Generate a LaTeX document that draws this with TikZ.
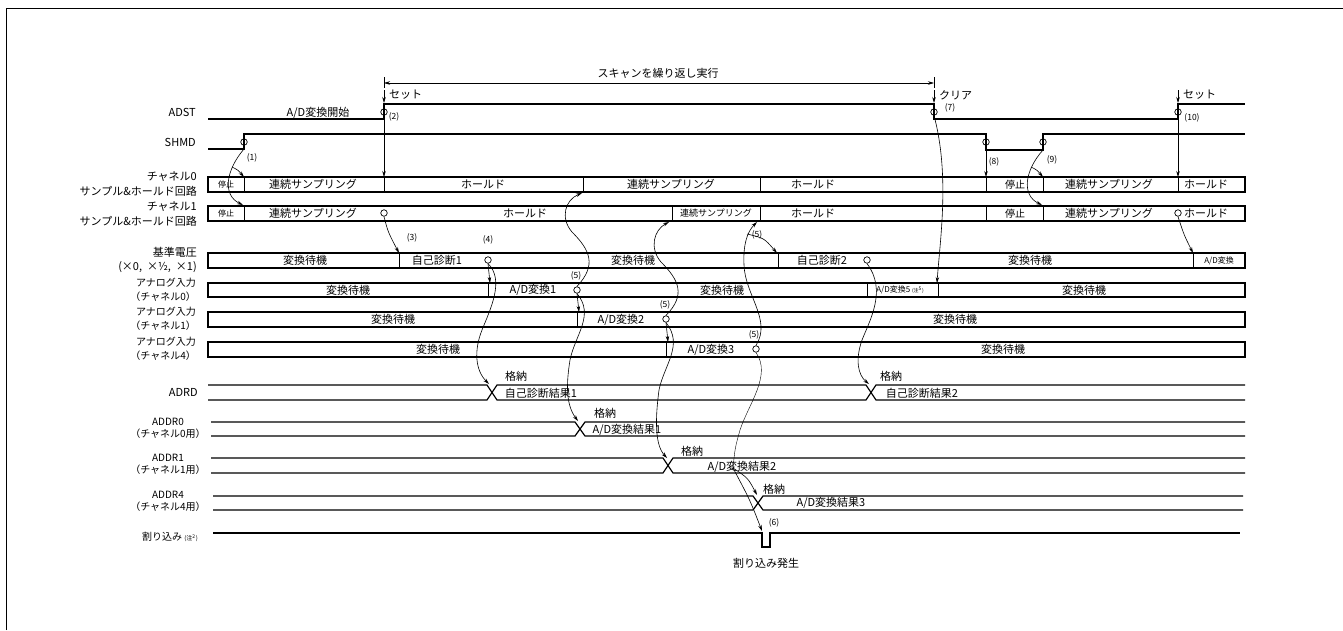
\documentclass[tikz,border=0pt]{standalone}
\usepackage{fontspec}
\setmainfont{Noto Sans CJK JP}
\usetikzlibrary{arrows.meta}

\begin{document}
\begin{tikzpicture}[
  x=1pt, y=-1pt,
  every node/.style={inner sep=1pt, font=\fontsize{11}{14.5}\selectfont},
  lbl/.style={anchor=east, align=right},
  reg/.style={align=center, font=\fontsize{10}{12}\selectfont},
  sm/.style={font=\fontsize{8}{9}\selectfont},
  num/.style={font=\fontsize{8.5}{9}\selectfont},
  sig/.style={line width=1.2pt},
  lane/.style={draw, line width=1.2pt},
  div/.style={line width=0.7pt},
  cue/.style={line width=0.6pt, -{Stealth[length=6pt,width=3.5pt]}},
  dot/.style={circle, draw, line width=0.7pt, inner sep=0pt, minimum size=6.5pt},
  >=Stealth
]
\useasboundingbox (0,0) rectangle (1343,630);
\draw[line width=0.8pt] (6,630) -- (6,8) -- (1343,8);

% row names
\node[lbl] (l-adst) at (197,112) {ADST};
\node[lbl] (l-shmd) at (197,142) {SHMD};
\node[lbl] (l-ch0) at (198,184) {チャネル0\\サンプル\&ホールド回路};
\node[lbl] (l-ch1) at (198,214) {チャネル1\\サンプル\&ホールド回路};
\node[lbl] (l-vref) at (198,260) {基準電圧\\(×0,\ \ ×½,\ \ ×1)};
\node[lbl, font=\fontsize{10}{14}\selectfont] (l-an0) at (197,290) {アナログ入力\\（チャネル0）};
\node[lbl, font=\fontsize{10}{14}\selectfont] (l-an1) at (197,319) {アナログ入力\\（チャネル1）};
\node[lbl, font=\fontsize{10}{14}\selectfont] (l-an4) at (197,349) {アナログ入力\\（チャネル4）};
\node[lbl] (l-adrd) at (199,392) {ADRD};
\node[reg] (l-addr0) at (168,428) {ADDR0\\（チャネル0用）};
\node[reg] (l-addr1) at (168,464) {ADDR1\\（チャネル1用）};
\node[reg] (l-addr4) at (168,501) {ADDR4\\（チャネル4用）};
\node[lbl, font=\fontsize{10}{12}\selectfont] (l-irq) at (199,537) {割り込み {\fontsize{6}{7}\selectfont(注\textsuperscript{2})}};

% scan span
\draw[line width=0.6pt] (384,77) -- (384,88) (934,77) -- (934,88);
\coordinate (span-l) at (384,83);
\coordinate (span-r) at (934,83);
\draw[line width=0.6pt, {Stealth[length=6pt,width=3.5pt]}-{Stealth[length=6pt,width=3.5pt]}] (span-l) -- (span-r);
\node (scan) at (658,73) {スキャンを繰り返し実行};

\coordinate (set1-a) at (384,90);
\coordinate (set1-b) at (384,103);
\coordinate (clr-a) at (934,90);
\coordinate (clr-b) at (934,103);
\coordinate (set2-a) at (1178,90);
\coordinate (set2-b) at (1178,103);
\draw[cue] (set1-a) -- (set1-b);
\draw[cue] (clr-a) -- (clr-b);
\draw[cue] (set2-a) -- (set2-b);
\node[anchor=west] (set1) at (388,95) {セット};
\node[anchor=west] (clr) at (938,95) {クリア};
\node[anchor=west] (set2) at (1182,95) {セット};

% ADST / SHMD
\draw[sig] (208,119) -- (384,119) -- (384,104) -- (934,104) -- (934,119) -- (1178,119) -- (1178,104) -- (1245,104);
\node[anchor=base] (adst-txt) at (318,116) {A/D変換開始};
\draw[sig] (208,149) -- (244,149) -- (244,134) -- (986,134) -- (986,150) -- (1043,150) -- (1043,134) -- (1245,134);

% sample & hold lanes
\draw[lane] (208,177) rectangle (1245,192);
\draw[div] (244,177) -- (244,192) (384,177) -- (384,192) (583,177) -- (583,192) (760,177) -- (760,192)
           (986,177) -- (986,192) (1043,177) -- (1043,192) (1178,177) -- (1178,192);
\node[sm] (s0a) at (226,184.5) {停止};
\node (s0b) at (313,184.5) {連続サンプリング};
\node (s0c) at (483,184.5) {ホールド};
\node (s0d) at (671,184.5) {連続サンプリング};
\node (s0e) at (813,184.5) {ホールド};
\node[font=\fontsize{10}{12}\selectfont] (s0f) at (1015,184.5) {停止};
\node (s0g) at (1109,184.5) {連続サンプリング};
\node (s0h) at (1206,184.5) {ホールド};

\draw[lane] (208,206) rectangle (1245,221);
\draw[div] (244,206) -- (244,221) (672,206) -- (672,221) (760,206) -- (760,221)
           (986,206) -- (986,221) (1043,206) -- (1043,221);
\node[sm] (s1a) at (226,213.5) {停止};
\node (s1b) at (313,213.5) {連続サンプリング};
\node (s1c) at (525,213.5) {ホールド};
\node[font=\fontsize{9}{10}\selectfont] (s1d) at (716,213.5) {連続サンプリング};
\node (s1e) at (813,213.5) {ホールド};
\node[font=\fontsize{10}{12}\selectfont] (s1f) at (1015,213.5) {停止};
\node (s1g) at (1109,213.5) {連続サンプリング};
\node (s1h) at (1206,213.5) {ホールド};

% converter lanes
\draw[lane] (208,253) rectangle (1245,268);
\draw[div] (399,253) -- (399,268) (778,253) -- (778,268) (1193,253) -- (1193,268);
\node (v-a) at (305,260.5) {変換待機};
\node (v-b) at (437,260.5) {自己診断1};
\node (v-c) at (633,260.5) {変換待機};
\node (v-d) at (822,260.5) {自己診断2};
\node (v-e) at (1030,260.5) {変換待機};
\node[sm] (v-f) at (1219,260.5) {A/D変換};

\draw[lane] (208,283) rectangle (1245,297);
\draw[div] (488,283) -- (488,297) (867,283) -- (867,297) (938,283) -- (938,297);
\node (a0-a) at (348,290) {変換待機};
\node (a0-b) at (533,290) {A/D変換1};
\node (a0-c) at (722,290) {変換待機};
\node[sm] (a0-d) at (900,290) {A/D変換5 {\fontsize{5}{6}\selectfont(注\textsuperscript{5})}};
\node (a0-e) at (1084,290) {変換待機};

\draw[lane] (208,312) rectangle (1245,327);
\draw[div] (577,312) -- (577,327);
\node (a1-a) at (393,319.5) {変換待機};
\node (a1-b) at (621,319.5) {A/D変換2};
\node (a1-c) at (955,319.5) {変換待機};

\draw[lane] (208,342) rectangle (1245,357);
\draw[div] (666,342) -- (666,357);
\node (a4-a) at (438,349.5) {変換待機};
\node (a4-b) at (711,349.5) {A/D変換3};
\node (a4-c) at (1003,349.5) {変換待機};

% result registers
\draw[sig] (208,385) -- (487,385) -- (497,400) -- (866,400) -- (876,385) -- (1245,385);
\draw[sig] (208,400) -- (487,400) -- (497,385) -- (866,385) -- (876,400) -- (1245,400);
\node (r-a) at (516,376) {格納};
\node (r-b) at (541,393) {自己診断結果1};
\node (r-c) at (891,376) {格納};
\node (r-d) at (922,393) {自己診断結果2};

\draw[sig] (211,422) -- (575,422) -- (585,436) -- (1245,436);
\draw[sig] (211,436) -- (575,436) -- (585,422) -- (1245,422);
\node (r0-a) at (605,413) {格納};
\node (r0-b) at (627,430) {A/D変換結果1};

\draw[sig] (211,458) -- (663,458) -- (673,473) -- (1245,473);
\draw[sig] (211,473) -- (663,473) -- (673,458) -- (1245,458);
\node (r1-a) at (692,451) {格納};
\node (r1-b) at (742,467) {A/D変換結果2};

\draw[sig] (213,496) -- (753,496) -- (763,510) -- (1243,510);
\draw[sig] (213,510) -- (753,510) -- (763,496) -- (1243,496);
\node (r4-a) at (774,489) {格納};
\node (r4-b) at (831,503) {A/D変換結果3};

\draw[sig] (213,533) -- (762,533) -- (762,547) -- (770,547) -- (770,533) -- (1240,533);
\node (irq) at (766,563) {割り込み発生};

% edge marks
\node[dot] (d2) at (384,112) {};
\node[dot] (d7) at (934,112) {};
\node[dot] (d10) at (1178,112) {};
\node[dot] (d1) at (244,142) {};
\node[dot] (d8) at (986,142) {};
\node[dot] (d9) at (1043,142) {};
\node[dot] (d3) at (384,213) {};
\node[dot] (d11) at (1178,213) {};
\node[dot] (d4) at (488,260) {};
\node[dot] (d5) at (867,260) {};
\node[dot] (e1) at (577,290) {};
\node[dot] (e2) at (666,319) {};
\node[dot] (e3) at (756,349) {};

% step numbers
\node[num] (n1) at (252,158) {(1)};
\node[num] (n2) at (394,117) {(2)};
\node[num] (n3) at (412,238) {(3)};
\node[num] (n4) at (488,240) {(4)};
\node[num] (n5a) at (576,276) {(5)};
\node[num] (n5b) at (665,305) {(5)};
\node[num] (n5c) at (754,335) {(5)};
\node[num] (n5d) at (757,235) {(5)};
\node[num] (n6) at (774,523) {(6)};
\node[num] (n7) at (950,108) {(7)};
\node[num] (n8) at (994,162) {(8)};
\node[num] (n9) at (1052,160) {(9)};
\node[num] (n10) at (1192,118) {(10)};

% triggers
\coordinate (t1a) at (244,177);
\coordinate (t1b) at (243,205);
\coordinate (b1) at (232,167);
\draw[cue] (244,149) .. controls (226,170) and (222,195) .. (t1b);
\draw[cue] (b1) .. controls (238,170) .. (t1a);

\coordinate (t9a) at (1043,177);
\coordinate (t9b) at (1042,205);
\coordinate (b9) at (1031,167);
\draw[cue] (1043,150) .. controls (1025,170) and (1021,195) .. (t9b);
\draw[cue] (b9) .. controls (1037,170) .. (t9a);

\coordinate (t2) at (384,177);
\coordinate (t10) at (1178,177);
\coordinate (t8) at (986,177);
\draw[cue] (d2.south) -- (t2);
\draw[cue] (d10.south) -- (t10);
\draw[cue] (986,150) -- (t8);

\coordinate (t3) at (399,253);
\draw[cue] (d3.south) .. controls (388,232) .. (t3);

\coordinate (t4) at (490,283);
\coordinate (t4x) at (489,384);
\draw[cue] (d4.south) -- (t4);
\draw[cue] (d4.south) .. controls (505,280) and (490,310) .. (482,330) .. controls (474,350) and (475,370) .. (t4x);

\coordinate (u1) at (582,193);
\coordinate (u1d) at (579,312);
\coordinate (u1x) at (578,421);
\draw[cue] (e1.south) -- (u1d);
\draw[cue] (e1.north) .. controls (597,265) and (590,250) .. (572,232) .. controls (560,218) and (565,200) .. (u1);
\draw[cue] (e1.south) .. controls (595,315) and (575,335) .. (570,360) .. controls (566,385) and (566,405) .. (u1x);

\coordinate (u2) at (669,222);
\coordinate (u2d) at (668,342);
\coordinate (u2x) at (667,458);
\draw[cue] (e2.south) -- (u2d);
\draw[cue] (e2.north) .. controls (686,295) and (679,280) .. (661,262) .. controls (649,248) and (654,230) .. (u2);
\draw[cue] (e2.south) .. controls (684,345) and (664,365) .. (659,390) .. controls (655,420) and (655,445) .. (u2x);

\coordinate (u3) at (757,222);
\coordinate (b5) at (747,234);
\coordinate (u3v) at (777,253);
\draw[cue] (e3.north) .. controls (772,320) and (745,295) .. (744,265) .. controls (743,245) and (747,232) .. (u3);
\draw[cue] (b5) .. controls (764,238) .. (u3v);

\coordinate (b6) at (733,468);
\coordinate (u3x) at (757,495);
\coordinate (u3i) at (762,531);
\draw (e3.south) .. controls (772,375) and (748,405) .. (740,430) .. controls (735,448) .. (b6);
\draw[cue] (b6) .. controls (748,478) .. (u3x);
\draw[cue] (b6) .. controls (750,500) .. (u3i);

\coordinate (t7) at (937,283);
\draw[cue] (d7.south) .. controls (950,175) and (940,240) .. (t7);

\coordinate (t5x) at (869,384);
\draw[cue] (d5.south) .. controls (887,290) and (870,320) .. (862,340) .. controls (855,360) and (858,375) .. (t5x);

\coordinate (t11) at (1193,253);
\draw[cue] (d11.south) .. controls (1184,235) .. (t11);

\end{tikzpicture}
\end{document}
